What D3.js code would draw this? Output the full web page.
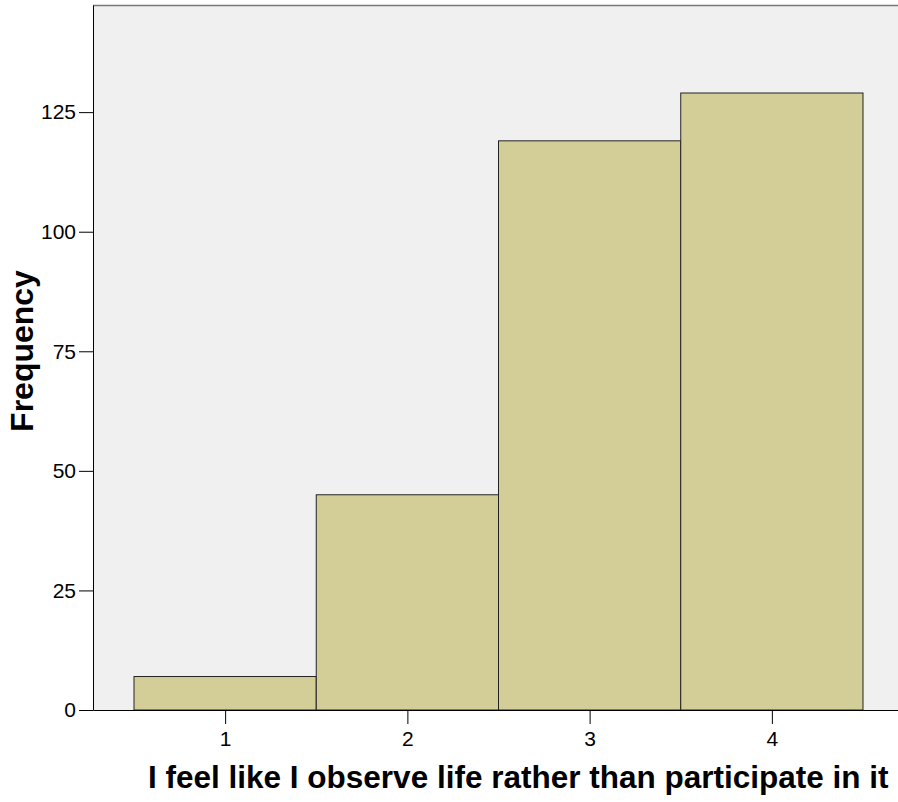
<!DOCTYPE html>
<html><head><meta charset="utf-8">
<script src="https://cdn.jsdelivr.net/npm/d3@7"></script>
<style>body{margin:0;background:#fff}svg{display:block}</style>
</head><body>
<svg id="c" width="898" height="802"></svg>
<script>
const categories = [1, 2, 3, 4];
const frequencies = [7, 45, 119, 129];
const yTicks = [0, 25, 50, 75, 100, 125];
const xLabel = "I feel like I observe life rather than participate in it";
const yLabel = "Frequency";

(function () {
const svg = d3.select("#c");
const FONT = "Arial, 'Liberation Sans', sans-serif";
const pL = 93, pR = 904, pT = 5, pB = 710;
const x = d3.scaleLinear().domain([0.275, 4.725]).range([pL, pR]);
const y = d3.scaleLinear().domain([0, 147.4]).range([pB, pT]);

svg.append("rect").attr("x", pL).attr("y", pT).attr("width", pR - pL).attr("height", pB - pT).attr("fill", "#f0f0f0");
svg.append("line").attr("x1", pL).attr("x2", pR).attr("y1", pT + 0.5).attr("y2", pT + 0.5).attr("stroke", "#777").attr("stroke-width", 1.5);

svg.selectAll("rect.bar").data(categories).enter().append("rect").attr("class", "bar")
  .attr("x", d => x(d - 0.5)).attr("width", d => x(d + 0.5) - x(d - 0.5))
  .attr("y", (d, i) => y(frequencies[i])).attr("height", (d, i) => y(0) - y(frequencies[i]))
  .attr("fill", "#d3ce98").attr("stroke", "#222").attr("stroke-width", 1);

const yAxis = d3.axisLeft(y).tickValues(yTicks).tickFormat(d3.format("d")).tickSize(14).tickPadding(3).tickSizeOuter(0);
const gy = svg.append("g").attr("transform", `translate(${pL},0)`).call(yAxis);
gy.select(".domain").attr("stroke", "#000");
gy.selectAll("line").attr("stroke", "#000");
gy.selectAll("text").style("font-family", FONT).style("font-size", "21px").attr("fill", "#000");

const xAxis = d3.axisBottom(x).tickValues(categories).tickFormat(d3.format("d")).tickSize(14).tickPadding(7).tickSizeOuter(0);
const gx = svg.append("g").attr("transform", `translate(0,${pB})`).call(xAxis);
gx.select(".domain").attr("stroke", "#000");
gx.selectAll("line").attr("stroke", "#000");
gx.selectAll("text").style("font-family", FONT).style("font-size", "21px").attr("fill", "#000");

svg.append("text").attr("x", 148).attr("y", 788).attr("text-anchor", "start")
  .style("font-family", FONT).style("font-weight", "bold").style("font-size", "31.5px").text(xLabel);
svg.append("text").attr("transform", `translate(33,351) rotate(-90)`).attr("text-anchor", "middle")
  .style("font-family", FONT).style("font-weight", "bold").style("font-size", "32px").text(yLabel);
})();
</script>
</body></html>
